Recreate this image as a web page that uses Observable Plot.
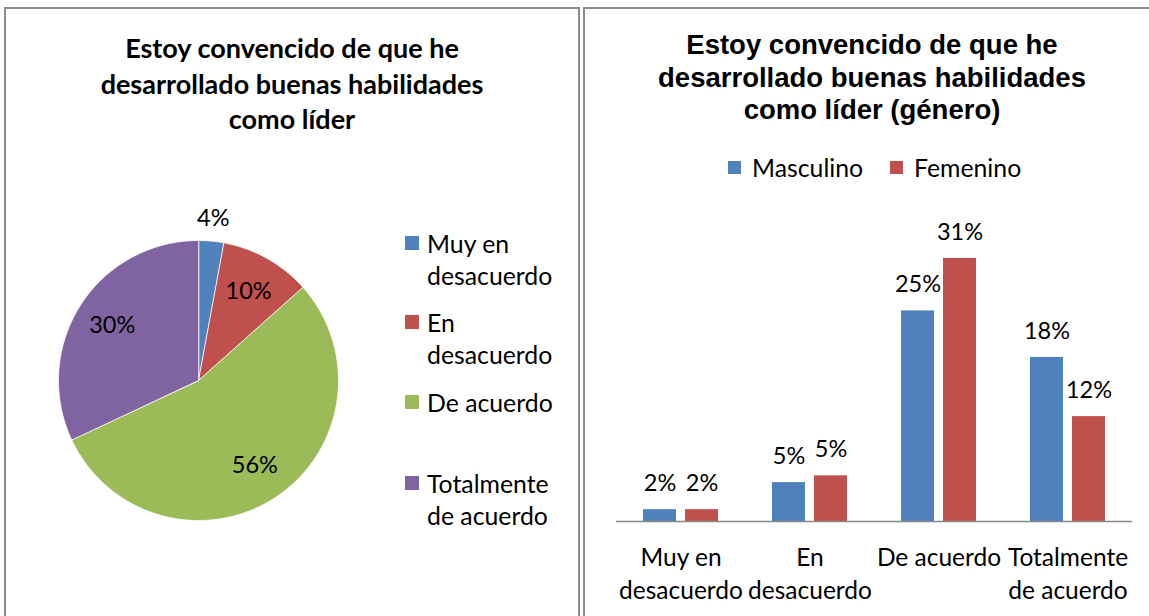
<!DOCTYPE html>
<html><head><meta charset="utf-8">
<script src="https://cdn.jsdelivr.net/npm/d3@7"></script>
<script src="https://cdn.jsdelivr.net/npm/@observablehq/plot@0.6"></script>
<style>
body{margin:0;background:#fff}
#root{position:relative;width:1149px;height:616px;overflow:hidden;background:#fff;font-family:Lato,"Open Sans",sans-serif;color:#000}
.panel{position:absolute;border:2px solid #8c8c8c;box-sizing:border-box}
.abs{position:absolute;white-space:nowrap}
.sq{position:absolute;width:14px;height:14px}
</style></head>
<body>
<div id="root">
  <div class="panel" style="left:4px;top:7px;width:576px;height:700px"></div>
  <div class="panel" style="left:583px;top:7px;width:700px;height:700px"></div>
  <div class="abs" style="left:4px;top:30px;width:576px;text-align:center;font-weight:bold;font-size:27px;line-height:35.5px;font-family:Lato,sans-serif">Estoy convencido de que he<br>desarrollado buenas habilidades<br>como líder</div>
  <div class="abs" style="left:583px;top:29px;width:578px;text-align:center;font-weight:bold;font-size:27.5px;line-height:32.5px;font-family:'Liberation Sans',Arial,sans-serif">Estoy convencido de que he<br>desarrollado buenas habilidades<br>como líder (género)</div>
  <div id="pieLegend"></div>
  <div id="barLegend"></div>
  <div id="pie" class="abs" style="left:2px;top:184px"></div>
  <div id="bars" class="abs" style="left:585px;top:190px"></div>
</div>
<script>
// ---- Pie data ----
const pieCats = ["Muy en desacuerdo", "En desacuerdo", "De acuerdo", "Totalmente de acuerdo"];
const pieLegendText = ["Muy en<br>desacuerdo", "En<br>desacuerdo", "De acuerdo", "Totalmente<br>de acuerdo"];
const pieValues = [2.9, 10.5, 54.6, 32.0];
const pieLabels = ["4%", "10%", "56%", "30%"];
const pieColors = ["#4F81BD", "#C0504D", "#9BBB59", "#8064A2"];

// ---- Bar data ----
const barCats = ["Muy en desacuerdo", "En desacuerdo", "De acuerdo", "Totalmente de acuerdo"];
const barCatText = ["Muy en\ndesacuerdo", "En\ndesacuerdo", "De acuerdo", "Totalmente\nde acuerdo"];
const genders = ["Masculino", "Femenino"];
const masculino = [1.4, 4.6, 24.9, 19.4];
const femenino = [1.4, 5.4, 31.1, 12.4];
const masculinoLabels = ["2%", "5%", "25%", "18%"];
const femeninoLabels = ["2%", "5%", "31%", "12%"];
const genderColors = ["#4F81BD", "#C0504D"];

// ---- Pie legend (HTML) ----
const pieLegendTops = [228, 307, 387, 468];
const pl = document.getElementById("pieLegend");
pieCats.forEach((c, i) => {
  const sq = document.createElement("div");
  sq.className = "sq";
  sq.style.cssText = `left:405px;top:${pieLegendTops[i] + 8}px;background:${pieColors[i]}`;
  pl.appendChild(sq);
  const t = document.createElement("div");
  t.className = "abs";
  t.style.cssText = `left:427px;top:${pieLegendTops[i]}px;font-size:24.8px;line-height:32px`;
  t.innerHTML = pieLegendText[i];
  pl.appendChild(t);
});

// ---- Bar legend (HTML) ----
const bl = document.getElementById("barLegend");
const legX = [728, 890];
genders.forEach((g, i) => {
  const sq = document.createElement("div");
  sq.className = "sq";
  sq.style.cssText = `left:${legX[i]}px;top:161px;width:13px;height:13px;background:${genderColors[i]}`;
  bl.appendChild(sq);
  const t = document.createElement("div");
  t.className = "abs";
  t.style.cssText = `left:${legX[i] + 24}px;top:152px;font-size:24.8px;line-height:32px`;
  t.textContent = g;
  bl.appendChild(t);
});

// ---- Pie via Plot ----
const arcs = d3.pie().sort(null).value(d => d)(pieValues);
const polyPts = [];
arcs.forEach((a, i) => {
  polyPts.push({cat: pieCats[i], x: 0, y: 0});
  const n = Math.max(4, Math.ceil((a.endAngle - a.startAngle) / 0.01));
  for (let k = 0; k <= n; k++) {
    const t = a.startAngle + (a.endAngle - a.startAngle) * k / n;
    polyPts.push({cat: pieCats[i], x: Math.sin(t), y: Math.cos(t)});
  }
});
const total = d3.sum(pieValues);
const labelPts = arcs.map((a, i) => {
  const m = (a.startAngle + a.endAngle) / 2;
  const r = pieValues[i] / total < 0.05 ? 1.16 : 0.73;
  return {x: r * Math.sin(m), y: r * Math.cos(m), text: pieLabels[i]};
});
const pie = Plot.plot({
  width: 392, height: 392, margin: 0,
  x: {domain: [-1.4, 1.4], axis: null},
  y: {domain: [-1.4, 1.4], axis: null},
  color: {domain: pieCats, range: pieColors},
  style: {fontFamily: "Lato, sans-serif", background: "transparent"},
  marks: [
    Plot.line(polyPts, {x: "x", y: "y", z: "cat", fill: "cat", stroke: "#ffffff", strokeWidth: 0.8, curve: "linear-closed"}),
    Plot.text(labelPts, {x: "x", y: "y", text: "text", fontSize: 23.5, fill: "#000"})
  ]
});
document.getElementById("pie").appendChild(pie);

// ---- Bars via Plot ----
const rows = [];
barCats.forEach((c, i) => {
  rows.push({cat: c, gender: "Masculino", value: masculino[i], label: masculinoLabels[i]});
  rows.push({cat: c, gender: "Femenino", value: femenino[i], label: femeninoLabels[i]});
});
const catRows = barCats.map((c, i) => ({cat: c, text: barCatText[i]}));
const bars = Plot.plot({
  width: 564, height: 426,
  marginLeft: 30, marginRight: 17, marginTop: 35, marginBottom: 95,
  fx: {domain: barCats, padding: 0, axis: null},
  x: {domain: genders, paddingInner: 0.209, paddingOuter: 0.608, axis: null},
  y: {domain: [0, 35], axis: null},
  color: {domain: genders, range: genderColors},
  style: {fontFamily: "Lato, sans-serif", background: "transparent"},
  marks: [
    Plot.barY(rows, {fx: "cat", x: "gender", y: "value", fill: "gender", inset: 0}),
    Plot.text(rows, {fx: "cat", x: "gender", y: "value", text: "label", dy: -26, fontSize: 23.5, fill: "#000"}),
    Plot.ruleY([0], {stroke: "#888888", strokeWidth: 1.5}),
    Plot.text(catRows, {fx: "cat", text: "text", frameAnchor: "bottom", lineAnchor: "top", dy: 21, lineHeight: 1.35, fontSize: 24.5, fill: "#000"})
  ]
});
document.getElementById("bars").appendChild(bars);
</script>
</body></html>
